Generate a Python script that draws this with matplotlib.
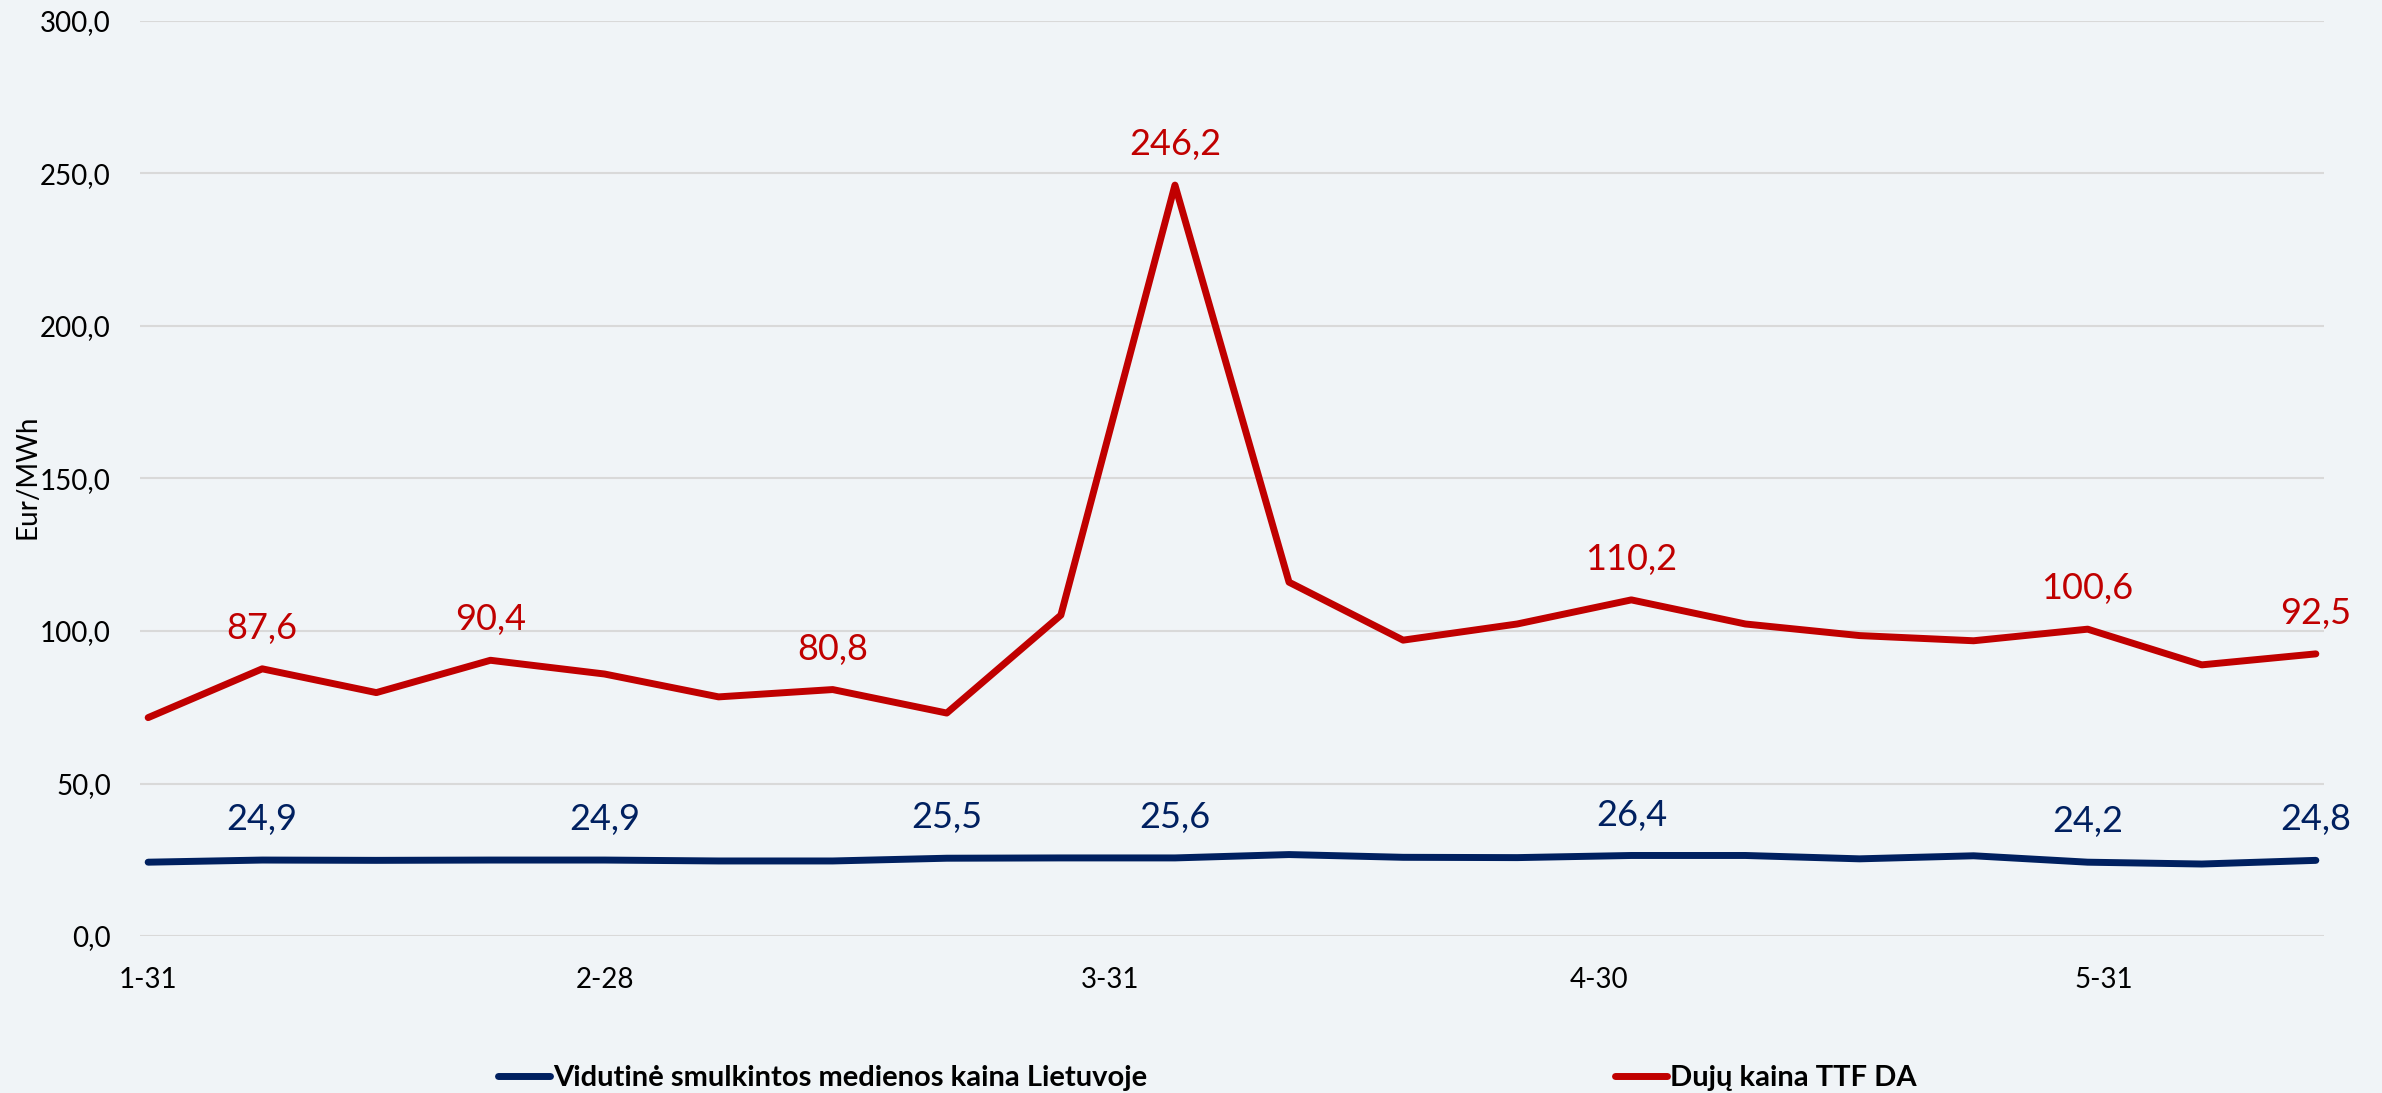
import matplotlib
matplotlib.use('Agg')
import matplotlib.pyplot as plt
import matplotlib.dates as mdates
from matplotlib.lines import Line2D
from matplotlib.ticker import FuncFormatter
import numpy as np

plt.rcParams['font.family'] = ['Lato', 'DejaVu Sans']

dates = ['2022-01-31', '2022-02-07', '2022-02-14', '2022-02-21', '2022-02-28',
         '2022-03-07', '2022-03-14', '2022-03-21', '2022-03-28', '2022-04-04',
         '2022-04-11', '2022-04-18', '2022-04-25', '2022-05-02', '2022-05-09',
         '2022-05-16', '2022-05-23', '2022-05-30', '2022-06-06', '2022-06-13']

wood_price = [24.2, 24.9, 24.8, 24.9, 24.9, 24.6, 24.6, 25.5, 25.6, 25.6,
              26.7, 25.8, 25.7, 26.4, 26.4, 25.3, 26.3, 24.2, 23.6, 24.8]
gas_price = [71.6, 87.6, 79.8, 90.4, 85.9, 78.4, 80.8, 73.1, 105.2, 246.2,
             116.0, 97.0, 102.3, 110.2, 102.3, 98.5, 96.8, 100.6, 88.9, 92.5]

# which points get a value label
wood_labels = [1, 4, 7, 9, 13, 17, 19]
gas_labels = [1, 3, 6, 9, 13, 17, 19]

tick_dates = ['2022-01-31', '2022-02-28', '2022-03-31', '2022-04-30', '2022-05-31']

wood_name = "Vidutinė smulkintos medienos kaina Lietuvoje"
gas_name = "Dujų kaina TTF DA"

BLUE = '#002060'
RED = '#C00000'
BG = '#F0F4F7'

x = np.array(dates, dtype='datetime64[D]')
xt = np.array(tick_dates, dtype='datetime64[D]')

fig = plt.figure(figsize=(23.82, 10.93), dpi=100, facecolor=BG)
ax = fig.add_axes([140 / 2382, 1 - 936 / 1093, 2184 / 2382, 915 / 1093])
ax.set_facecolor(BG)

ax.plot(x, wood_price, color=BLUE, lw=5, solid_capstyle='round', solid_joinstyle='round', zorder=3)
ax.plot(x, gas_price, color=RED, lw=5, solid_capstyle='round', solid_joinstyle='round', zorder=3)

for i in wood_labels:
    ax.annotate(f"{wood_price[i]:.1f}".replace('.', ','), (x[i], wood_price[i]),
                xytext=(0, 21.5), textcoords='offset points', ha='center', va='baseline',
                fontsize=26, color=BLUE)
for i in gas_labels:
    ax.annotate(f"{gas_price[i]:.1f}".replace('.', ','), (x[i], gas_price[i]),
                xytext=(0, 21.5), textcoords='offset points', ha='center', va='baseline',
                fontsize=26, color=RED)

ax.set_ylim(0, 300)
ax.set_yticks(np.arange(0, 301, 50))
ax.yaxis.set_major_formatter(FuncFormatter(lambda v, p: f"{v:.1f}".replace('.', ',')))
ax.set_xlim(x[0] - np.timedelta64(12, 'h'), x[-1] + np.timedelta64(12, 'h'))
ax.set_xticks(xt)
ax.xaxis.set_major_formatter(FuncFormatter(
    lambda v, p: f"{mdates.num2date(v).month}-{mdates.num2date(v).day}"))

ax.grid(axis='y', color='#D9D9D9', lw=1.5)
ax.set_axisbelow(True)
for s in ax.spines.values():
    s.set_visible(False)
ax.tick_params(axis='both', length=0, labelsize=20, colors='black')
ax.tick_params(axis='y', pad=21)
ax.tick_params(axis='x', pad=22)

fig.text(27 / 2382, 1 - 477 / 1093, "Eur/MWh", rotation=90, ha='center', va='center', fontsize=20)

leg_kw = dict(loc='center left', frameon=False, borderpad=0, borderaxespad=0,
              handlelength=1.78, handletextpad=0.12, prop={'weight': 'bold', 'size': 21})
fig.legend(handles=[Line2D([], [], color=BLUE, lw=5, solid_capstyle='round')],
           labels=[wood_name], bbox_to_anchor=(498 / 2382, 1 - 1078 / 1093), **leg_kw)
fig.legend(handles=[Line2D([], [], color=RED, lw=5, solid_capstyle='round')],
           labels=[gas_name], bbox_to_anchor=(1615 / 2382, 1 - 1078 / 1093), **leg_kw)

fig.savefig('out.png', dpi=100, facecolor=BG)
